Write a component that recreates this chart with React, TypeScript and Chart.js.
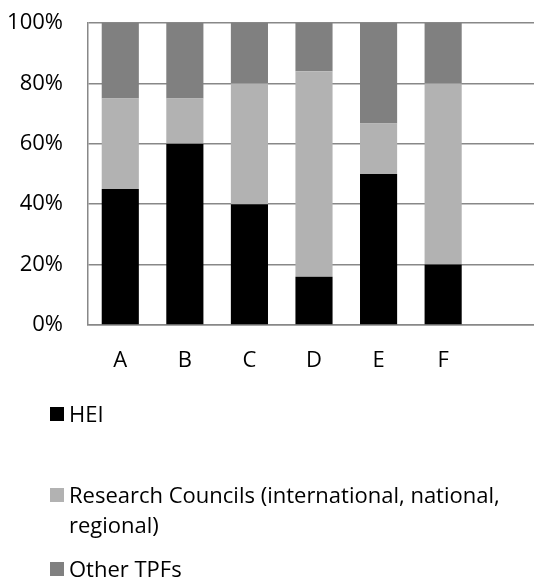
import React, { useEffect, useRef } from "react";
import { Chart, registerables } from "chart.js";

Chart.register(...registerables);

const categories = ["A", "B", "C", "D", "E", "F", ""];
const seriesNames = [
  "HEI",
  "Research Councils (international, national, regional)",
  "Other TPFs",
];
const hei = [45, 60, 40, 16, 50, 20, null];
const researchCouncils = [30, 15, 40, 68, 16.7, 60, null];
const otherTPFs = [25, 25, 20, 16, 33.3, 20, null];
const seriesColors = ["#000000", "#b2b2b2", "#808080"];
const yTicks = [0, 20, 40, 60, 80, 100];

const FONT = "'Open Sans', sans-serif";
const FONT_SIZE = 22;
const CANVAS_W = 540;
const CANVAS_H = 581;

const legendPlugin = {
  id: "customLegend",
  afterDraw(chart: any) {
    const ctx = chart.ctx;
    const ds = chart.data.datasets;
    const boxX = 50;
    const boxSize = 14;
    const textX = 69;
    const maxW = 534 - textX - 2;
    const lineH = 30;
    // baselines of the first line of each item
    const baselines = [422, 503, 577];
    ctx.save();
    ctx.font = `${FONT_SIZE}px ${FONT}`;
    ctx.fillStyle = "#000";
    ctx.textAlign = "left";
    ctx.textBaseline = "alphabetic";
    ds.forEach((d: any, i: number) => {
      const base = baselines[i];
      ctx.fillStyle = d.backgroundColor;
      ctx.fillRect(boxX, base - 15, boxSize, boxSize);
      ctx.fillStyle = "#000";
      const words = String(d.label).split(" ");
      const lines: string[] = [];
      let cur = "";
      words.forEach((w) => {
        const test = cur ? cur + " " + w : w;
        if (ctx.measureText(test).width > maxW && cur) {
          lines.push(cur);
          cur = w;
        } else {
          cur = test;
        }
      });
      if (cur) lines.push(cur);
      lines.forEach((ln, k) => ctx.fillText(ln, textX, base + k * lineH));
    });
    ctx.restore();
  },
};

export default function App() {
  const ref = useRef<HTMLCanvasElement | null>(null);
  useEffect(() => {
    if (!ref.current) return;
    const chart = new Chart(ref.current, {
      type: "bar",
      data: {
        labels: categories,
        datasets: [
          { label: seriesNames[0], data: hei, backgroundColor: seriesColors[0] },
          { label: seriesNames[1], data: researchCouncils, backgroundColor: seriesColors[1] },
          { label: seriesNames[2], data: otherTPFs, backgroundColor: seriesColors[2] },
        ] as any,
      },
      options: {
        animation: false,
        responsive: false,
        maintainAspectRatio: false,
        layout: { padding: { left: 0, right: 0, top: 23, bottom: 211 } },
        datasets: {
          bar: { categoryPercentage: 1, barPercentage: 0.575 },
        } as any,
        plugins: {
          legend: { display: false },
          tooltip: { enabled: false },
        },
        scales: {
          x: {
            stacked: true,
            grid: { display: false, drawTicks: false },
            border: { display: true, color: "#888888", width: 1.5 },
            ticks: {
              color: "#000",
              font: { family: FONT, size: FONT_SIZE },
              padding: 23,
              maxRotation: 0,
            },
            afterFit(scale: any) {
              scale.height = 45;
              scale.paddingLeft = 0;
              scale.paddingRight = 0;
            },
          },
          y: {
            stacked: true,
            min: 0,
            max: 100,
            afterBuildTicks(scale: any) {
              scale.ticks = yTicks.map((v) => ({ value: v }));
            },
            grid: { color: "#888888", lineWidth: 1.5, drawTicks: false },
            border: { display: true, color: "#888888", width: 1.5 },
            ticks: {
              color: "#000",
              font: { family: FONT, size: FONT_SIZE },
              padding: 25,
              callback: (v: any) => v + "%",
            },
            afterFit(scale: any) {
              scale.width = 88;
              scale.paddingTop = 0;
              scale.paddingBottom = 0;
            },
          },
        },
      },
      plugins: [legendPlugin],
    });
    return () => chart.destroy();
  }, []);
  return (
    <div
      style={{
        position: "absolute",
        left: 0,
        top: 0,
        width: 534,
        height: 581,
        overflow: "hidden",
      }}
    >
      <canvas
        ref={ref}
        width={CANVAS_W}
        height={CANVAS_H}
        style={{ width: CANVAS_W, height: CANVAS_H, display: "block" }}
      />
    </div>
  );
}
